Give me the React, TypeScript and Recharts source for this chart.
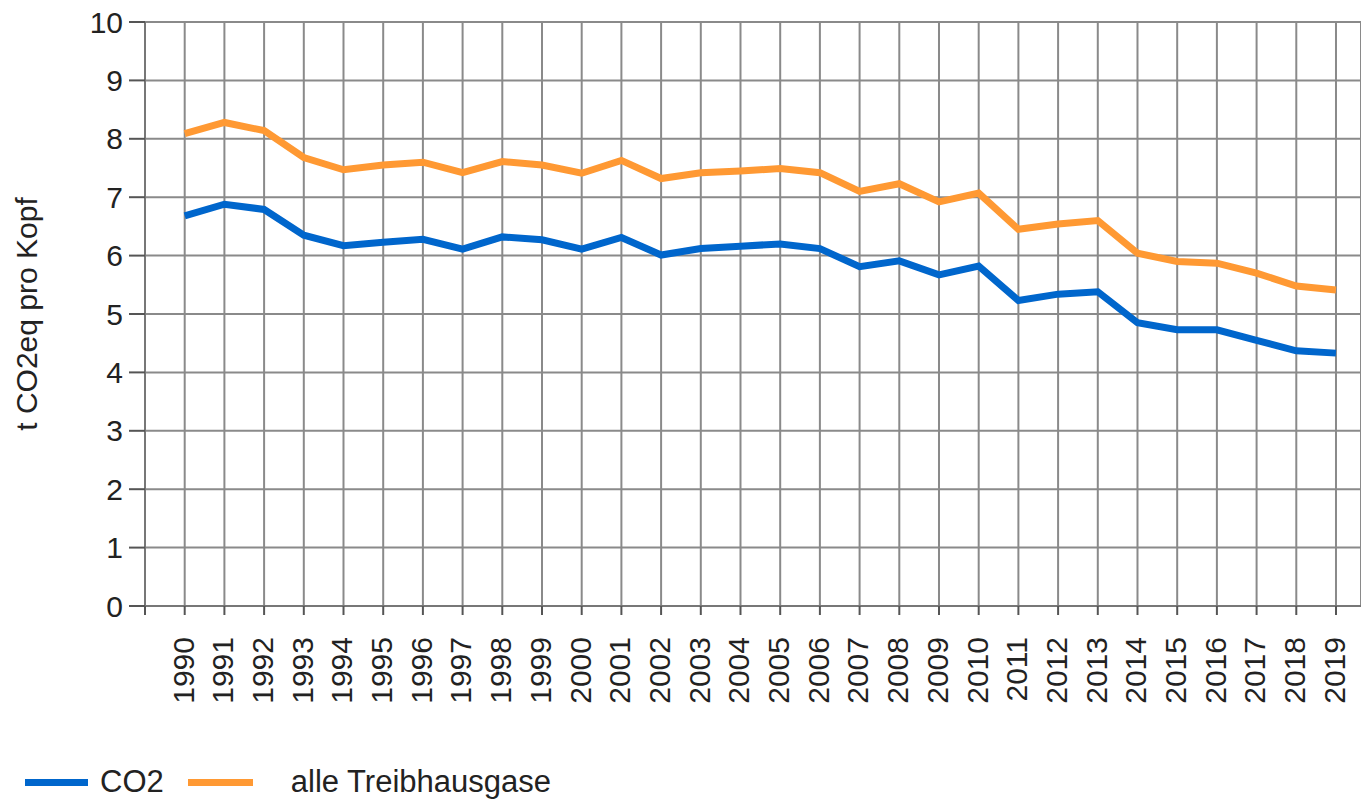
import { CartesianGrid, Label, Line, LineChart, XAxis, YAxis } from 'recharts'

const years = [
  1990, 1991, 1992, 1993, 1994, 1995, 1996, 1997, 1998, 1999, 2000, 2001, 2002, 2003, 2004,
  2005, 2006, 2007, 2008, 2009, 2010, 2011, 2012, 2013, 2014, 2015, 2016, 2017, 2018, 2019,
]
const co2 = [
  6.68, 6.88, 6.79, 6.35, 6.17, 6.23, 6.28, 6.11, 6.32, 6.27, 6.11, 6.31, 6.01, 6.12, 6.16,
  6.2, 6.12, 5.81, 5.91, 5.67, 5.82, 5.23, 5.34, 5.38, 4.85, 4.73, 4.73, 4.55, 4.37, 4.33,
]
const ghg = [
  8.09, 8.28, 8.14, 7.68, 7.47, 7.55, 7.6, 7.42, 7.61, 7.55, 7.41, 7.63, 7.32, 7.42, 7.45,
  7.49, 7.42, 7.1, 7.23, 6.92, 7.07, 6.45, 6.54, 6.6, 6.04, 5.9, 5.87, 5.7, 5.48, 5.41,
]
const xTicks = [1989, ...years]
const yTicks = [0, 1, 2, 3, 4, 5, 6, 7, 8, 9, 10]

const FONT = '"Liberation Sans", Arial, sans-serif'
const BLUE = '#0066cc'
const ORANGE = '#ff9933'

const data = years.map((year, i) => ({ year, co2: co2[i], ghg: ghg[i] }))

function YearTick({ x, y, payload }: any) {
  if (payload.value === 1989) return null
  return (
    <text
      transform={`translate(${x - 2},${y + 20}) rotate(-90)`}
      textAnchor="end"
      dy="0.36em"
      fontSize={30}
      fontFamily={FONT}
      fill="#222"
    >
      {payload.value}
    </text>
  )
}

export default function App() {
  return (
    <div style={{ position: 'absolute', left: 0, top: 0, width: 1361, height: 800, background: '#fff' }}>
      <LineChart width={1361} height={800} data={data} margin={{ top: 22, right: 0, left: 0, bottom: 0 }}>
        <CartesianGrid stroke="#8a8a8a" strokeWidth={2} />
        <XAxis
          dataKey="year"
          type="number"
          domain={[1989, 2019.63]}
          ticks={xTicks}
          allowDataOverflow
          height={194}
          interval={0}
          tick={<YearTick />}
          tickSize={9}
          tickLine={{ stroke: '#555', strokeWidth: 2 }}
          axisLine={{ stroke: '#777', strokeWidth: 2 }}
        />
        <YAxis
          width={145}
          domain={[0, 10]}
          ticks={yTicks}
          interval={0}
          tickSize={16}
          tickMargin={6}
          tick={{ fill: '#222', fontSize: 30, fontFamily: FONT }}
          tickLine={{ stroke: '#555', strokeWidth: 2 }}
          axisLine={{ stroke: '#777', strokeWidth: 2 }}
        >
          <Label
            content={({ viewBox }: any) => (
              <text
                transform={`translate(${viewBox.x + 26},${viewBox.y + viewBox.height / 2}) rotate(-90)`}
                textAnchor="middle"
                dominantBaseline="central"
                fontSize={30}
                fontFamily={FONT}
                fill="#222"
              >
                t CO2eq pro Kopf
              </text>
            )}
          />
        </YAxis>
        <Line dataKey="co2" stroke={BLUE} strokeWidth={7} dot={false} isAnimationActive={false} />
        <Line dataKey="ghg" stroke={ORANGE} strokeWidth={7} dot={false} isAnimationActive={false} />
      </LineChart>
      <div
        style={{
          position: 'absolute',
          left: 25,
          top: 764,
          display: 'flex',
          alignItems: 'center',
          fontFamily: FONT,
          fontSize: 31,
          color: '#222',
          whiteSpace: 'nowrap',
        }}
      >
        <span style={{ display: 'inline-block', width: 63, height: 7, background: BLUE, marginRight: 12 }} />
        <span style={{ marginRight: 24 }}>CO2</span>
        <span style={{ display: 'inline-block', width: 65, height: 7, background: ORANGE, marginRight: 38 }} />
        <span>alle Treibhausgase</span>
      </div>
    </div>
  )
}
